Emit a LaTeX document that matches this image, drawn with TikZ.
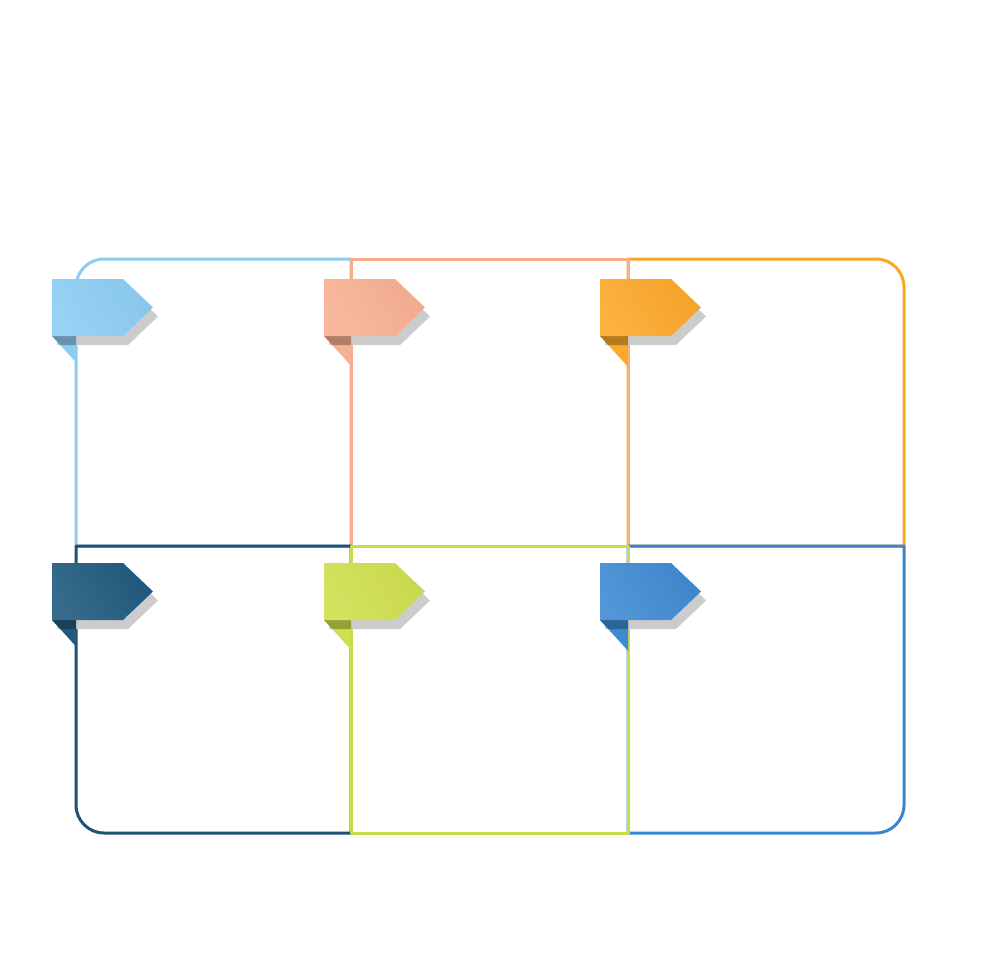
\documentclass[tikz,border=0pt]{standalone}
\usetikzlibrary{calc}
\definecolor{cA}{HTML}{8CCDF3}
\definecolor{cB}{HTML}{F8B092}
\definecolor{cC}{HTML}{FCA82B}
\definecolor{cD}{HTML}{215A7E}
\definecolor{cE}{HTML}{CFDF4E}
\definecolor{cF}{HTML}{3F8AD2}
\definecolor{lA}{HTML}{8FCBF0}
\definecolor{lB}{HTML}{F4AE8F}
\definecolor{lC}{HTML}{F8A825}
\definecolor{lD}{HTML}{1E5275}
\definecolor{lE}{HTML}{C8DB48}
\definecolor{lF}{HTML}{3A86CE}
\tikzset{cellline/.style={line width=3pt, line join=round}}
\newcommand\mytab[5]{% #1 name, #2 x, #3 y, #4 color, #5 cell line x
  \coordinate (#1) at (#2,#3);
  \fill[black!20] ($(#1)+(5,9)$) -- ++(71,0) -- ++(30,28.5) -- ++(-30,28.5) -- ++(-71,0) -- cycle;
  \fill[#4] ($(#1)+(0,57)$) -- (#5,#3+57) -- (#5,{#3+57+1.1*(#5-#2)}) -- cycle;
  \fill[black,opacity=.28] ($(#1)+(0,57)$) -- (#5,#3+57) -- (#5,#3+66) -- (#2+8.2,#3+66) -- cycle;
  \shade[left color=#4!97!black, right color=#4!90!white, shading angle=-60]
    (#1) -- ++(71,0) -- ++(30,28.5) -- ++(-30,28.5) -- ++(-71,0) -- cycle;
}
\begin{document}
\begin{tikzpicture}[x=1pt,y=-1pt]
\useasboundingbox (0,0) rectangle (980,980);
\fill[white] (0,0) rectangle (980,980);
% grid coordinates
\coordinate (x0) at (76,0); \coordinate (x1) at (351,0);
\coordinate (x2) at (628,0); \coordinate (x3) at (904,0);
% top row
\draw[cellline, lA] (351,546) -- (76,546) -- (76,287) arc[start angle=180, end angle=270, radius=28] -- (351,259) -- cycle;
\draw[cellline, lC] (628,259) -- (876,259) arc[start angle=270, end angle=360, radius=28] -- (904,546) -- (628,546) -- cycle;
\draw[cellline, lB] (351,259) rectangle (628,546);
% bottom row
\draw[cellline, lD] (351,546) -- (76,546) -- (76,805) arc[start angle=180, end angle=90, radius=28] -- (351,833) -- cycle;
\draw[cellline, lF] (628,546) -- (904,546) -- (904,805) arc[start angle=0, end angle=90, radius=28] -- (628,833) -- cycle;
\draw[cellline, lE] (351,546) rectangle (628,833);
% tabs
\mytab{tA}{52}{279}{cA}{76}
\mytab{tB}{324}{279}{cB}{351}
\mytab{tC}{600}{279}{cC}{628}
\mytab{tD}{52}{563}{cD}{76}
\mytab{tE}{324}{563}{cE}{351}
\mytab{tF}{600}{563}{cF}{628}
\end{tikzpicture}
\end{document}
